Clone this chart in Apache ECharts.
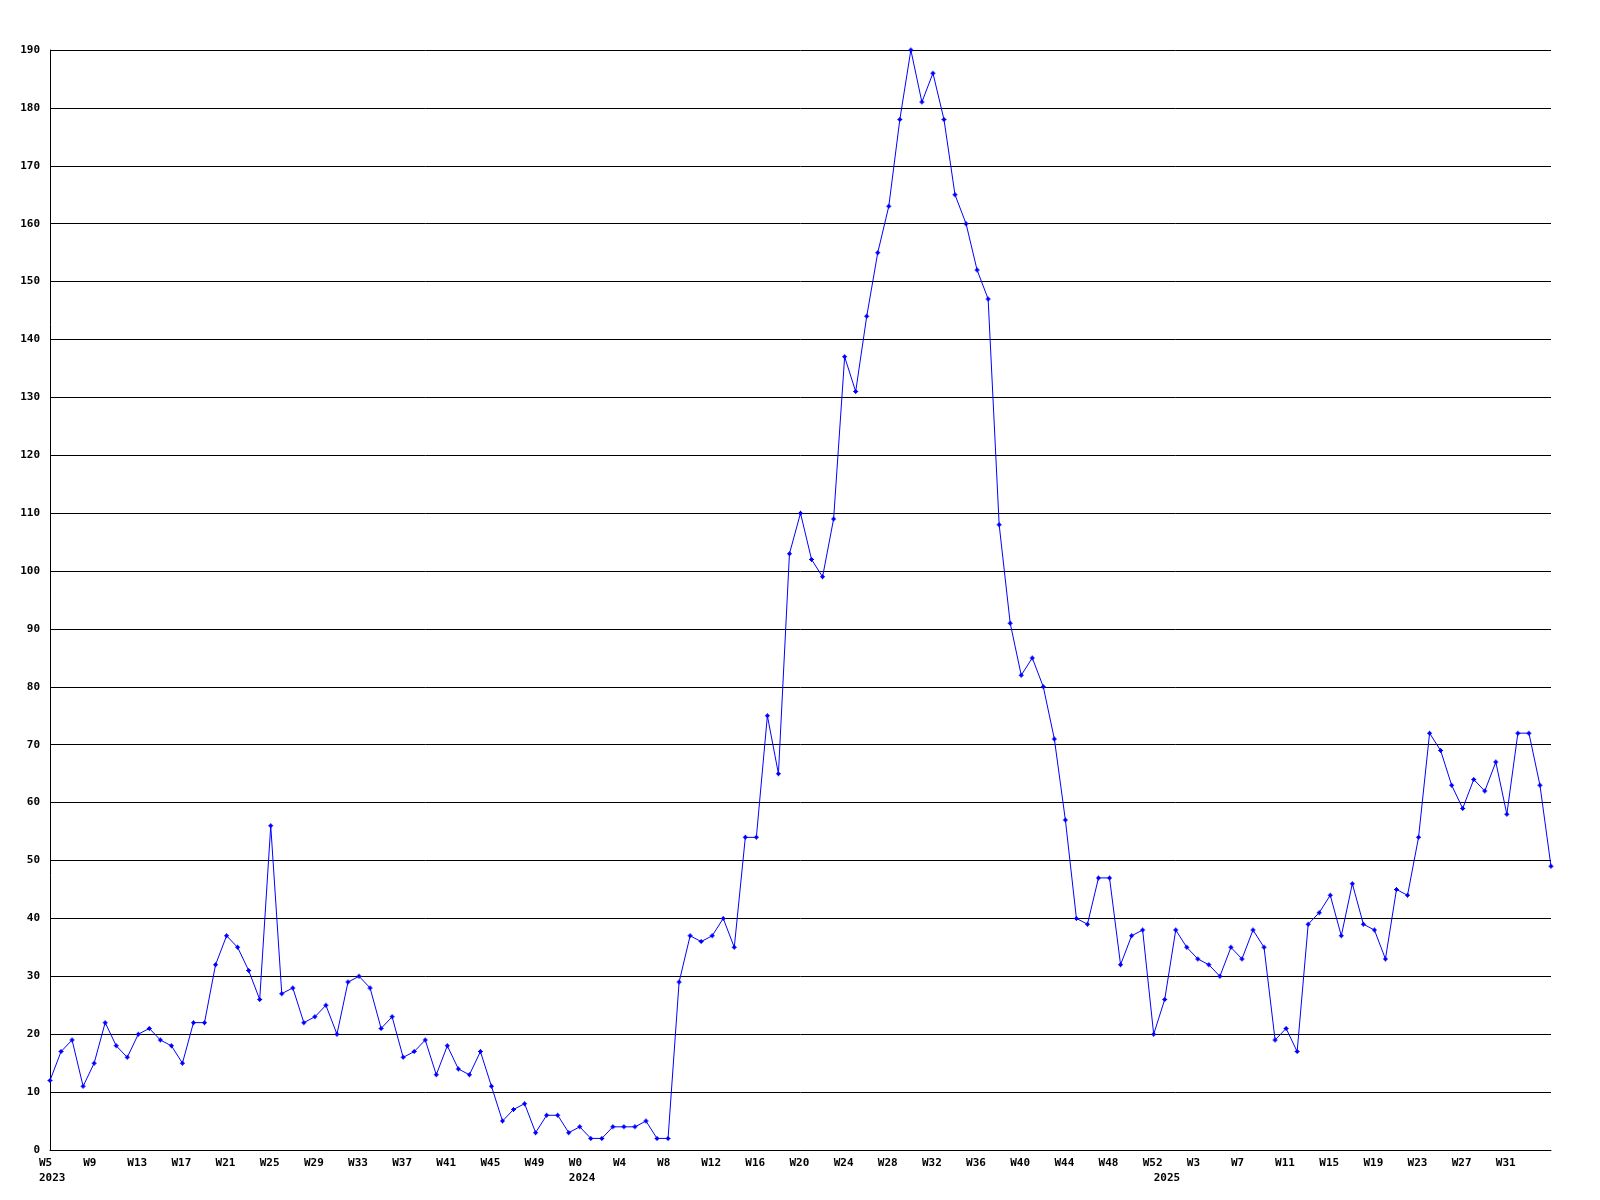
<!DOCTYPE html>
<html>
<head>
<meta charset="utf-8">
<script src="https://cdn.jsdelivr.net/npm/echarts@6/dist/echarts.min.js"></script>
<style>
html,body{margin:0;padding:0;background:#fff;}
#chart{width:1600px;height:1200px;}
</style>
</head>
<body>
<div id="chart"></div>
<script>
// Week ranges per year: [year, firstWeek, lastWeek]
const weekRanges = [[2023, 5, 52], [2024, 0, 52], [2025, 0, 35]];

// Values per year (one per week)
const values2023 = [12,17,19,11,15,22,18,16,20,21,19,18,15,22,22,32,37,35,31,26,56,27,28,22,23,25,20,29,30,28,21,23,16,17,19,13,18,14,13,17,11,5,7,8,3,6,6,3];
const values2024 = [4,2,2,4,4,4,5,2,2,29,37,36,37,40,35,54,54,75,65,103,110,102,99,109,137,131,144,155,163,178,190,181,186,178,165,160,152,147,108,91,82,85,80,71,57,40,39,47,47,32,37,38,20];
const values2025 = [26,38,35,33,32,30,35,33,38,35,19,21,17,39,41,44,37,46,39,38,33,45,44,54,72,69,63,59,64,62,67,58,72,72,63,49];

const yTicks = [0,10,20,30,40,50,60,70,80,90,100,110,120,130,140,150,160,170,180,190];

// Build categories
const categories = [];
const weekNum = [];
const yearStart = {};
weekRanges.forEach(([y, a, b]) => {
  yearStart[categories.length] = y;
  for (let w = a; w <= b; w++) { categories.push(y + '-W' + w); weekNum.push(w); }
});
const data = values2023.concat(values2024, values2025);
const lastIdx = categories.length - 1;

const FONT = '"DejaVu Sans Mono", "Liberation Mono", monospace';

const chart = echarts.init(document.getElementById('chart'), null, {renderer: 'canvas'});
chart.setOption({
  animation: false,
  backgroundColor: '#ffffff',
  grid: {left: 50, right: 49, top: 50, bottom: 50, containLabel: false},
  xAxis: {
    type: 'category',
    data: categories,
    boundaryGap: false,
    axisLine: {show: true, lineStyle: {color: '#000', width: 1}},
    axisTick: {show: false},
    splitLine: {show: false},
    axisLabel: {
      interval: (idx) => (idx % 4 === 0 && idx !== lastIdx) || yearStart[idx] !== undefined,
      formatter: (val, idx) => {
        const wk = (idx % 4 === 0 && idx !== lastIdx) ? 'W' + weekNum[idx] : '';
        const yr = yearStart[idx] !== undefined ? '\n' + yearStart[idx] : '';
        return wk + yr;
      },
      align: 'left',
      padding: [0, 0, 0, -11],
      margin: 6,
      lineHeight: 15,
      color: '#000',
      fontFamily: FONT,
      fontWeight: 'bold',
      fontSize: 11,
      hideOverlap: false
    }
  },
  yAxis: {
    type: 'value',
    min: 0,
    max: 190,
    interval: 10,
    axisLine: {show: true, lineStyle: {color: '#000', width: 1}},
    axisTick: {show: false},
    splitLine: {show: true, lineStyle: {color: '#000', width: 1}},
    axisLabel: {
      formatter: (v) => yTicks.indexOf(v) >= 0 ? String(v) : '',
      margin: 10,
      color: '#000',
      fontFamily: FONT,
      fontWeight: 'bold',
      fontSize: 11
    }
  },
  series: [{
    type: 'line',
    data: data,
    symbol: 'path://M2 0 L3 0 L3 1 L4 1 L4 2 L5 2 L5 3 L4 3 L4 4 L3 4 L3 5 L2 5 L2 4 L1 4 L1 3 L0 3 L0 2 L1 2 L1 1 L2 1 Z',
    symbolSize: 5,
    showAllSymbol: true,
    lineStyle: {color: '#0000ff', width: 1},
    itemStyle: {color: '#0000ff', borderWidth: 0},
    emphasis: {disabled: true}
  }]
});
</script>
</body>
</html>
